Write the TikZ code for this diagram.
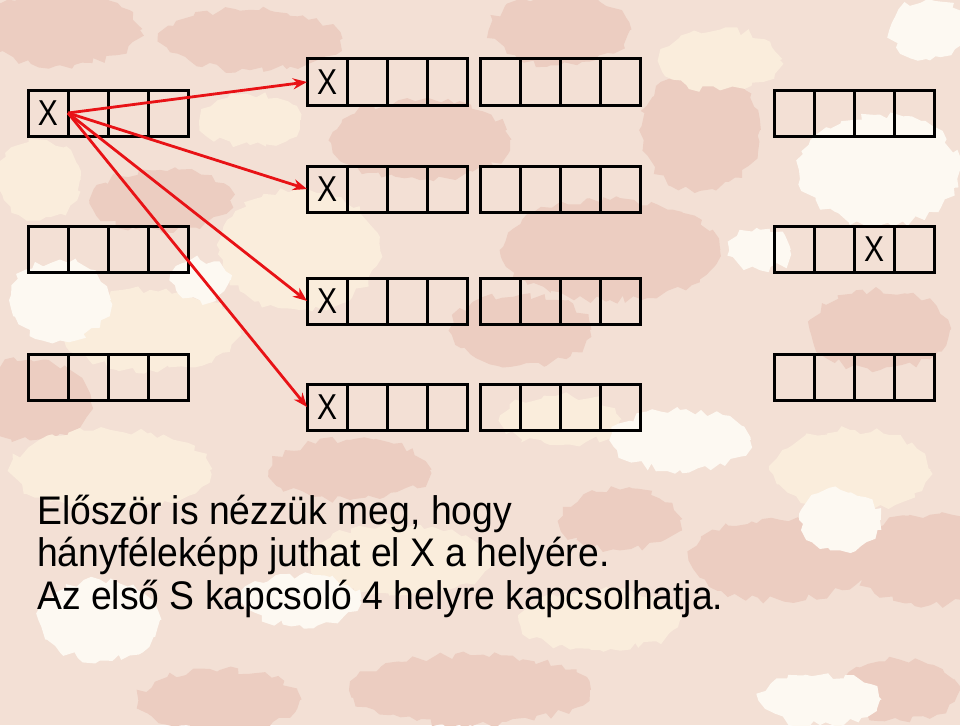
\documentclass[tikz,border=0pt]{standalone}
\usepackage{fontspec}
\setmainfont{Liberation Sans}
\usetikzlibrary{arrows.meta,calc,decorations.pathmorphing}

\definecolor{bgrose}{RGB}{243,224,213}
\definecolor{bgdark}{RGB}{236,205,193}
\definecolor{bgcream}{RGB}{250,237,220}
\definecolor{bgwhite}{RGB}{253,249,242}
\definecolor{arrowred}{RGB}{232,18,22}

\tikzset{
  cell/.style={draw, line width=3pt, minimum width=40pt, minimum height=46pt,
    inner sep=0pt, outer sep=0pt, anchor=north west, font=\fontsize{30}{30}\selectfont},
  move/.style={draw=arrowred, line width=2.8pt, -{Stealth[length=14pt,width=11pt]}},
  caption/.style={anchor=north west, inner sep=0pt, font=\fontsize{37.3}{40}\selectfont},
  blob/.style={fill=#1, decorate, decoration={random steps, segment length=7pt, amplitude=4pt}}
}

% name, upper left corner, cell holding X (0 = none)
\newcommand{\register}[3]{%
  \foreach \i in {1,...,4}
    \node[cell] (#1-\i) at ($(#2)+(40*\i-40,0)$) {\ifnum\i=#3 \scalebox{1}[1.2]{X}\fi};
}

\begin{document}
\begin{tikzpicture}[x=1pt,y=-1pt]
\useasboundingbox (0,0) rectangle (960,725);
% background
\begin{scope}
\clip (0,0) rectangle (960,725);
\fill[bgrose] (0,0) rectangle (960,725);
\foreach \x/\y/\a/\b in {60/30/80/35, 250/40/90/30, 560/30/70/35, 420/140/90/40, 610/250/110/50,
    520/330/70/35, 160/200/70/30, 30/400/60/40, 880/330/70/40, 930/560/80/45, 780/560/90/40,
    470/690/120/35, 220/700/80/30, 900/690/60/30, 700/130/60/60, 350/470/80/30, 620/520/60/30}
  \path[blob=bgdark] (\x,\y) ellipse [x radius=\a, y radius=\b];
\foreach \x/\y/\a/\b in {300/250/80/60, 150/330/90/40, 110/470/100/40, 400/560/90/35, 850/470/80/40,
    600/620/80/30, 720/60/60/30, 40/180/40/40, 560/420/60/25, 250/120/50/25}
  \path[blob=bgcream] (\x,\y) ellipse [x radius=\a, y radius=\b];
\foreach \x/\y/\a/\b in {880/170/80/55, 680/440/70/30, 60/300/50/40, 100/620/60/40, 930/30/40/30,
    300/600/60/25, 820/700/60/25, 840/520/40/30, 200/280/30/20, 760/250/30/20}
  \path[blob=bgwhite] (\x,\y) ellipse [x radius=\a, y radius=\b];
\end{scope}

% left column
\register{l1}{28,90}{1}
\register{l2}{28,226}{0}
\register{l3}{28,354}{0}
% middle columns
\register{m1}{307,59}{1}
\register{n1}{480,59}{0}
\register{m2}{307,166}{1}
\register{n2}{480,166}{0}
\register{m3}{307,278}{1}
\register{n3}{480,278}{0}
\register{m4}{307,384}{1}
\register{n4}{480,384}{0}
% right column
\register{r1}{774,90}{0}
\register{r2}{774,226}{3}
\register{r3}{774,354}{0}

\foreach \k in {1,...,4}
  \draw[move] (l1-1.east) -- (m\k-1.west);

\node[caption] (note) at (37,494) {\scalebox{1}[1.07]{\begin{tabular}{@{}l@{}}
Először is nézzük meg, hogy\\
hányféleképp juthat el X a helyére.\\
Az első S kapcsoló 4 helyre kapcsolhatja.
\end{tabular}}};
\end{tikzpicture}
\end{document}
